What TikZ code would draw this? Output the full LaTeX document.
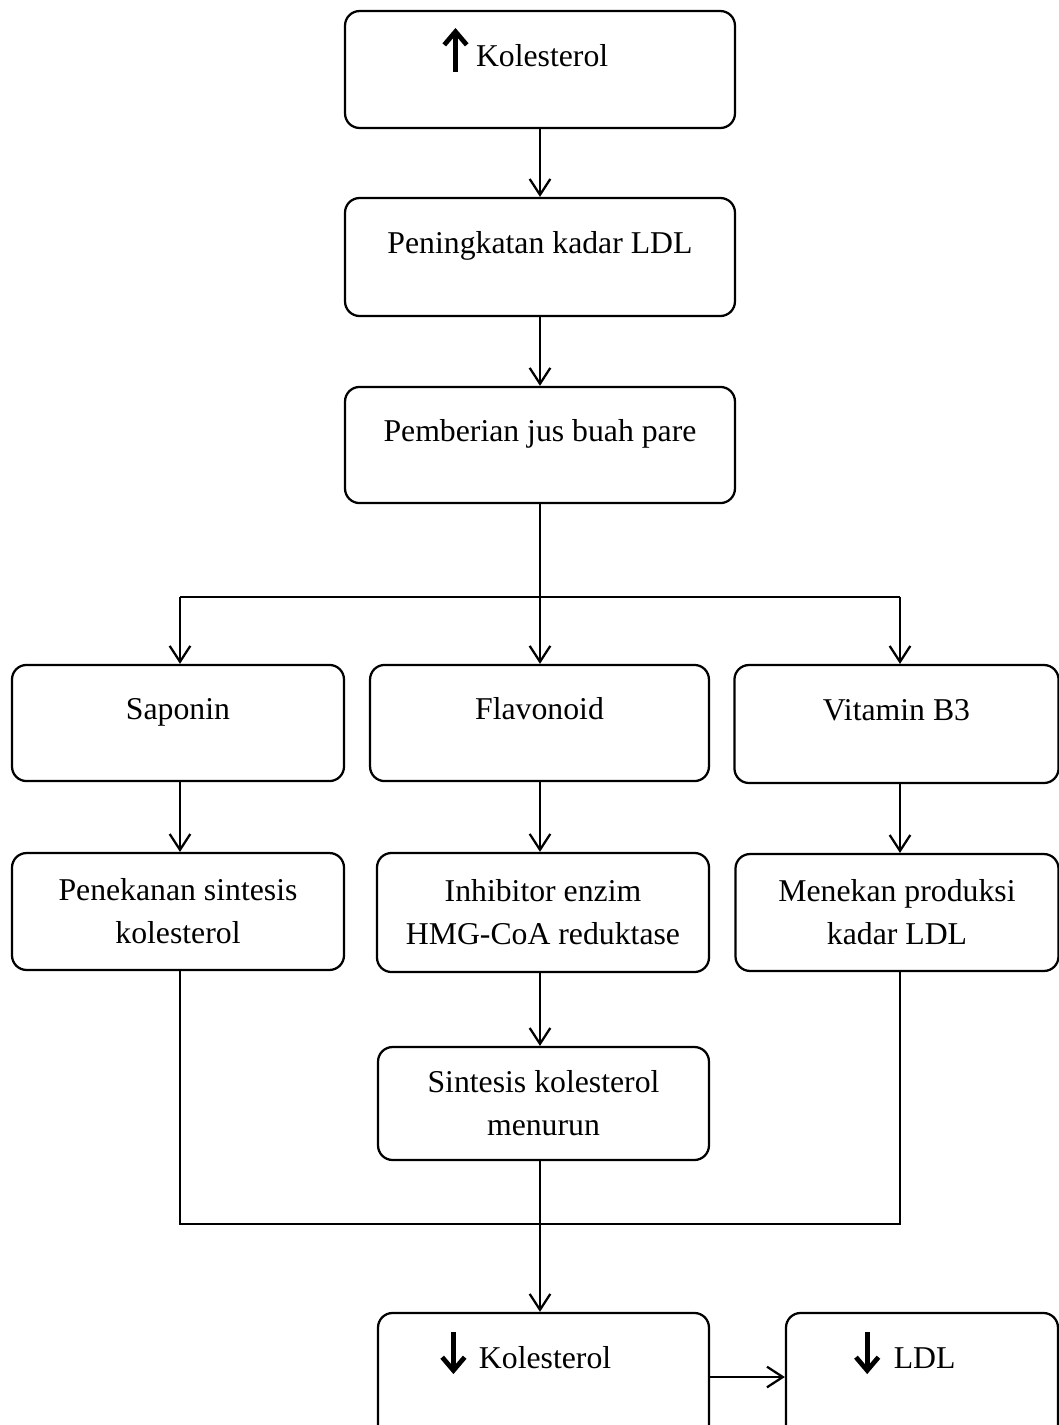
\documentclass[tikz,border=0pt]{standalone}
\usepackage{fontspec}
\setmainfont{Liberation Serif}
\usetikzlibrary{arrows.meta}
\newcommand\boldup{\tikz[baseline=0pt]\draw[line width=1.8pt,-{Straight Barb[length=5pt,width=8.5pt]}] (0pt,-2.3pt) -- (0pt,14.4pt);}
\newcommand\bolddown{\tikz[baseline=0pt]\draw[line width=1.8pt,-{Straight Barb[length=5pt,width=8.5pt]}] (0pt,13.6pt) -- (0pt,-2.3pt);}
\newcommand\trail[1]{\rule{#1}{0pt}}
\tikzset{
  base/.style={draw, line width=0.85pt, rounded corners=5.5pt, inner sep=0pt, font=\fontsize{12}{16.3}\selectfont},
  one/.style 2 args={base, minimum width=#1, text height=20.8pt, text depth=#2},
  two/.style 2 args={base, minimum width=#1, minimum height=#2, align=center},
  arr/.style={line width=0.85pt, -{Straight Barb[length=6pt,width=7.8pt]}},
  ln/.style={line width=0.85pt}
}
\begin{document}
\begin{tikzpicture}[x=0.378pt,y=-0.378pt]
\useasboundingbox (0,0) rectangle (1059,1425);
\node[one={147.4pt}{23.4pt}] (top) at (540,69.5) {\boldup\hspace{2.6pt}Kolesterol\trail{11.3pt}};
\node[one={147.4pt}{23.8pt}] (ldlup) at (540,257) {Peningkatan kadar LDL};
\node[one={147.4pt}{23.1pt}] (jus) at (540,445) {Pemberian jus buah pare};
\node[one={125.5pt}{23.1pt}] (sap) at (178,723) {Saponin};
\node[one={128.1pt}{23.1pt}] (flav) at (539.5,723) {Flavonoid};
\node[one={122.5pt}{23.8pt}] (vit) at (896.5,724) {Vitamin B3};
\node[two={125.5pt}{44.2pt}] (pen) at (178,911.5) {Penekanan sintesis\\kolesterol};
\node[two={125.5pt}{45pt}] (inh) at (543,912.5) {Inhibitor enzim\\HMG-CoA reduktase};
\node[two={122.1pt}{44.2pt}] (men) at (897,912.5) {Menekan produksi\\kadar LDL};
\node[two={125.1pt}{42.7pt}] (sin) at (543.5,1103.5) {Sintesis kolesterol\\menurun};
\node[one={125.1pt}{27.6pt}] (kol) at (543.5,1377) {\bolddown\hspace{4.5pt}Kolesterol\trail{13.6pt}};
\node[one={102.8pt}{27.6pt}] (ldl) at (922,1377) {\bolddown\hspace{4.9pt}LDL\trail{13.2pt}};
\coordinate (sp) at (540,0);
\coordinate (sl) at (180,0);
\coordinate (sr) at (900,0);
\coordinate (br) at (540,597);
\coordinate (mg) at (540,1224);
\draw[arr] (top.south) -- (ldlup.north);
\draw[arr] (ldlup.south) -- (jus.north);
\draw[arr] (jus.south) -- (flav.north -| sp);
\draw[ln] (br -| sl) -- (br -| sr);
\draw[arr] (br -| sl) -- (sap.north -| sl);
\draw[arr] (br -| sr) -- (vit.north -| sr);
\draw[arr] (sap.south -| sl) -- (pen.north -| sl);
\draw[arr] (flav.south -| sp) -- (inh.north -| sp);
\draw[arr] (vit.south -| sr) -- (men.north -| sr);
\draw[arr] (inh.south -| sp) -- (sin.north -| sp);
\draw[ln] (pen.south -| sl) |- (mg -| sr) -- (men.south -| sr);
\draw[arr] (sin.south -| sp) -- (kol.north -| sp);
\draw[arr] (kol.east) -- (ldl.west);
\end{tikzpicture}
\end{document}
